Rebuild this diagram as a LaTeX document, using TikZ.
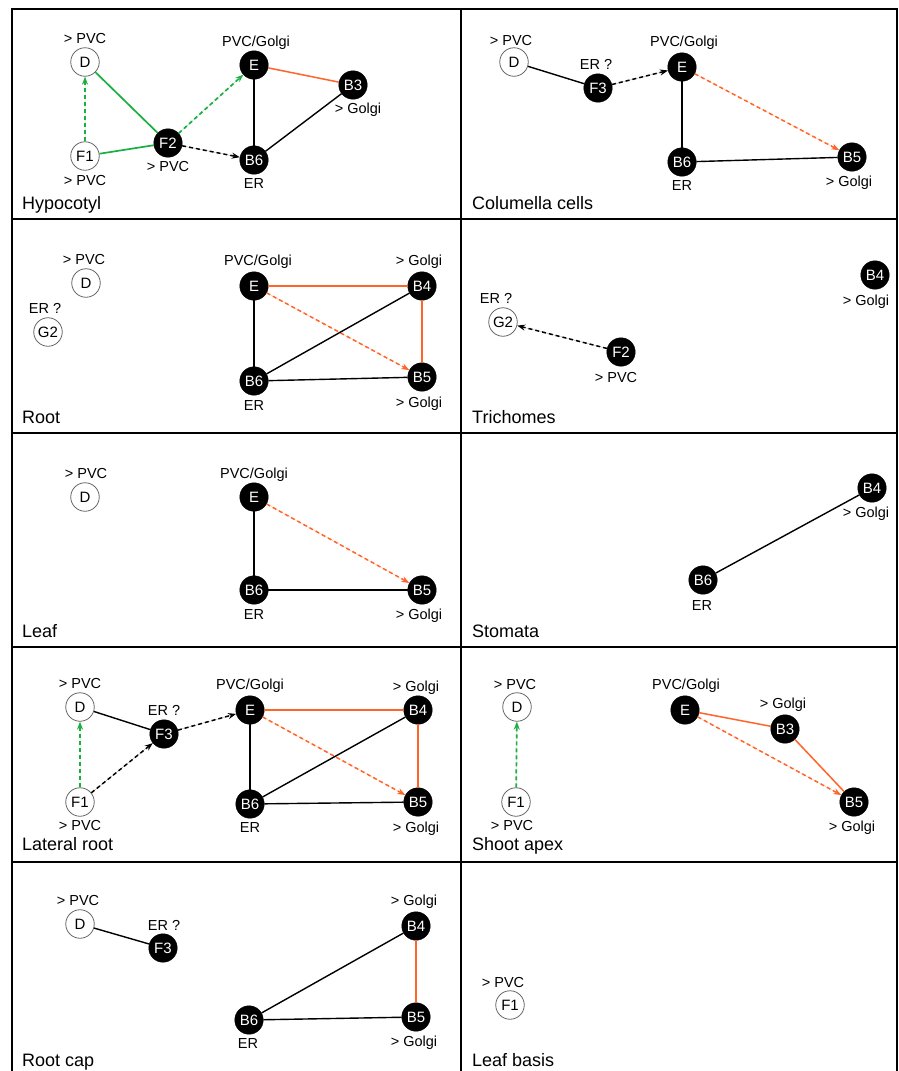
\documentclass[tikz,border=0pt]{standalone}
\usepackage{fontspec}
\setmainfont{Liberation Sans}
\usetikzlibrary{arrows.meta}
\definecolor{grn}{RGB}{25,175,65}
\definecolor{org}{RGB}{255,100,40}
\newcommand\mkW[4]{\node[wnode] (#1) at (#2,#3) {#4};}
\newcommand\mkB[4]{\node[bnode] (#1) at (#2,#3) {#4};}
\newcommand\mkL[4]{\node[labtext] (#1) at (#2,#3) {#4};}
\newcommand\mkT[4]{\node[titletext] (#1) at (#2,#3) {#4};}
\begin{document}
\begin{tikzpicture}[x=1pt,y=-1pt,
  wnode/.style={circle,draw=black!60,line width=0.8pt,fill=white,minimum size=28.5pt,inner sep=0pt,
    text height=10.5pt,text depth=0pt,font=\fontsize{15}{17}\selectfont},
  bnode/.style={circle,draw=black,fill=black,text=white,minimum size=28.5pt,inner sep=0pt,
    text height=10.5pt,text depth=0pt,font=\fontsize{15}{17}\selectfont},
  labtext/.style={inner sep=0pt,text height=10.5pt,text depth=0pt,anchor=center,font=\fontsize{14.5}{16}\selectfont},
  titletext/.style={inner sep=0pt,anchor=base west,font=\fontsize{18}{20}\selectfont},
  blk/.style={draw=black,line width=1.4pt},
  orgl/.style={draw=org,line width=1.5pt},
  grnl/.style={draw=grn,line width=1.7pt},
  arr/.style={-{Stealth[length=8pt,width=6pt]},dash pattern=on 4pt off 3pt,line width=1.5pt},
  blkarr/.style={arr,draw=black,fill=black},
  orgarr/.style={arr,draw=org,fill=org},
  grnarr/.style={arr,draw=grn,fill=grn,line width=1.7pt},
  frame/.style={line width=2pt,draw=black}
]
\useasboundingbox (0,0) rectangle (898,1071);
\fill[white] (0,0) rectangle (898,1071);
% frame
\draw[frame] (12,1075) -- (12,9) -- (897,9) -- (897,1075);
\draw[frame] (461,9) -- (461,1075);
\foreach \yy in {219,433,647,862} {\draw[frame] (12,\yy) -- (897,\yy);}

% ---------- Panel 1: Hypocotyl
\mkW{aD}{85}{62}{D}
\mkW{aF1}{85}{156}{F1}
\mkB{aF2}{168}{143}{F2}
\mkB{aE}{254}{65}{E}
\mkB{aB3}{353}{85}{B3}
\mkB{aB6}{254}{160}{B6}
\mkL{aDl}{85}{38}{> PVC}
\mkL{aF1l}{85}{180}{> PVC}
\mkL{aF2l}{168}{166}{> PVC}
\mkL{aEl}{256}{41}{PVC/Golgi}
\mkL{aB3l}{358}{108}{> Golgi}
\mkL{aB6l}{254}{183}{ER}
\mkT{aT}{22}{209}{Hypocotyl}
\draw[grnl] (aD) -- (aF2);
\draw[grnl] (aF1) -- (aF2);
\draw[grnarr] (aF1) -- (aD);
\draw[grnarr] (aF2) -- (aE);
\draw[blkarr] (aF2) -- (aB6);
\draw[blk] (aE) -- (aB6);
\draw[orgl] (aE) -- (aB3);
\draw[blk] (aB3) -- (aB6);

% ---------- Panel 2: Columella cells
\mkW{bD}{514}{62}{D}
\mkB{bF3}{598}{88}{F3}
\mkB{bE}{682}{67}{E}
\mkB{bB6}{682}{162}{B6}
\mkB{bB5}{852}{157}{B5}
\mkL{bDl}{511}{40}{> PVC}
\mkL{bF3l}{596}{64}{ER ?}
\mkL{bEl}{684}{41}{PVC/Golgi}
\mkL{bB6l}{682}{185}{ER}
\mkL{bB5l}{849}{181}{> Golgi}
\mkT{bT}{472}{209}{Columella cells}
\draw[blk] (bD) -- (bF3);
\draw[blkarr] (bF3) -- (bE);
\draw[blk] (bE) -- (bB6);
\draw[orgarr] (bE) -- (bB5);
\draw[blk] (bB6) -- (bB5);

% ---------- Panel 3: Root
\mkW{cD}{86}{283}{D}
\mkW{cG2}{48}{332}{G2}
\mkB{cE}{254}{286}{E}
\mkB{cB4}{422}{286}{B4}
\mkB{cB6}{254}{381}{B6}
\mkB{cB5}{422}{377}{B5}
\mkL{cDl}{84}{259}{> PVC}
\mkL{cG2l}{45}{308}{ER ?}
\mkL{cEl}{258}{260}{PVC/Golgi}
\mkL{cB4l}{419}{260}{> Golgi}
\mkL{cB6l}{254}{405}{ER}
\mkL{cB5l}{419}{402}{> Golgi}
\mkT{cT}{22}{423}{Root}
\draw[orgl] (cE) -- (cB4);
\draw[orgl] (cB4) -- (cB5);
\draw[orgarr] (cE) -- (cB5);
\draw[blk] (cE) -- (cB6);
\draw[blk] (cB6) -- (cB4);
\draw[blk] (cB6) -- (cB5);

% ---------- Panel 4: Trichomes
\mkB{dB4}{875}{275}{B4}
\mkW{dG2}{503}{322}{G2}
\mkB{dF2}{621}{352}{F2}
\mkL{dB4l}{866}{300}{> Golgi}
\mkL{dG2l}{496}{298}{ER ?}
\mkL{dF2l}{616}{377}{> PVC}
\mkT{dT}{472}{423}{Trichomes}
\draw[blkarr] (dF2) -- (dG2);

% ---------- Panel 5: Leaf
\mkW{eD}{85}{497}{D}
\mkB{eE}{254}{497}{E}
\mkB{eB6}{254}{590}{B6}
\mkB{eB5}{422}{590}{B5}
\mkL{eDl}{86}{473}{> PVC}
\mkL{eEl}{254}{473}{PVC/Golgi}
\mkL{eB6l}{254}{614}{ER}
\mkL{eB5l}{419}{614}{> Golgi}
\mkT{eT}{22}{637}{Leaf}
\draw[blk] (eE) -- (eB6);
\draw[blk] (eB6) -- (eB5);
\draw[orgarr] (eE) -- (eB5);

% ---------- Panel 6: Stomata
\mkB{fB4}{872}{488}{B4}
\mkB{fB6}{703}{580}{B6}
\mkL{fB4l}{866}{512}{> Golgi}
\mkL{fB6l}{702}{605}{ER}
\mkT{fT}{472}{637}{Stomata}
\draw[blk] (fB6) -- (fB4);

% ---------- Panel 7: Lateral root
\mkW{gD}{80}{707}{D}
\mkW{gF1}{80}{802}{F1}
\mkB{gF3}{164}{734}{F3}
\mkB{gE}{250}{710}{E}
\mkB{gB4}{418}{710}{B4}
\mkB{gB6}{250}{804}{B6}
\mkB{gB5}{418}{802}{B5}
\mkL{gDl}{80}{683}{> PVC}
\mkL{gF1l}{80}{825}{> PVC}
\mkL{gF3l}{164}{710}{ER ?}
\mkL{gEl}{250}{684}{PVC/Golgi}
\mkL{gB4l}{416}{686}{> Golgi}
\mkL{gB6l}{250}{827}{ER}
\mkL{gB5l}{416}{827}{> Golgi}
\mkT{gT}{22}{850}{Lateral root}
\draw[blk] (gD) -- (gF3);
\draw[blkarr] (gF1) -- (gF3);
\draw[grnarr] (gF1) -- (gD);
\draw[blkarr] (gF3) -- (gE);
\draw[orgl] (gE) -- (gB4);
\draw[orgl] (gB4) -- (gB5);
\draw[orgarr] (gE) -- (gB5);
\draw[blk] (gE) -- (gB6);
\draw[blk] (gB6) -- (gB4);
\draw[blk] (gB6) -- (gB5);

% ---------- Panel 8: Shoot apex
\mkW{hD}{517}{707}{D}
\mkW{hF1}{516}{802}{F1}
\mkB{hE}{685}{710}{E}
\mkB{hB3}{785}{729}{B3}
\mkB{hB5}{854}{802}{B5}
\mkL{hDl}{515}{684}{> PVC}
\mkL{hF1l}{512}{825}{> PVC}
\mkL{hEl}{686}{684}{PVC/Golgi}
\mkL{hB3l}{783}{703}{> Golgi}
\mkL{hB5l}{852}{826}{> Golgi}
\mkT{hT}{472}{850}{Shoot apex}
\draw[grnarr] (hF1) -- (hD);
\draw[orgl] (hE) -- (hB3);
\draw[orgl] (hB3) -- (hB5);
\draw[orgarr] (hE) -- (hB5);

% ---------- Panel 9: Root cap
\mkW{iD}{80}{924}{D}
\mkB{iF3}{163}{948}{F3}
\mkB{iB4}{416}{926}{B4}
\mkB{iB6}{249}{1020}{B6}
\mkB{iB5}{416}{1017}{B5}
\mkL{iDl}{78}{900}{> PVC}
\mkL{iF3l}{164}{925}{ER ?}
\mkL{iB4l}{414}{900}{> Golgi}
\mkL{iB6l}{248}{1043}{ER}
\mkL{iB5l}{414}{1041}{> Golgi}
\mkT{iT}{22}{1066}{Root cap}
\draw[blk] (iD) -- (iF3);
\draw[blk] (iB6) -- (iB4);
\draw[orgl] (iB4) -- (iB5);
\draw[blk] (iB6) -- (iB5);

% ---------- Panel 10: Leaf basis
\mkW{jF1}{510}{1005}{F1}
\mkL{jF1l}{503}{982}{> PVC}
\mkT{jT}{472}{1066}{Leaf basis}
\end{tikzpicture}
\end{document}
